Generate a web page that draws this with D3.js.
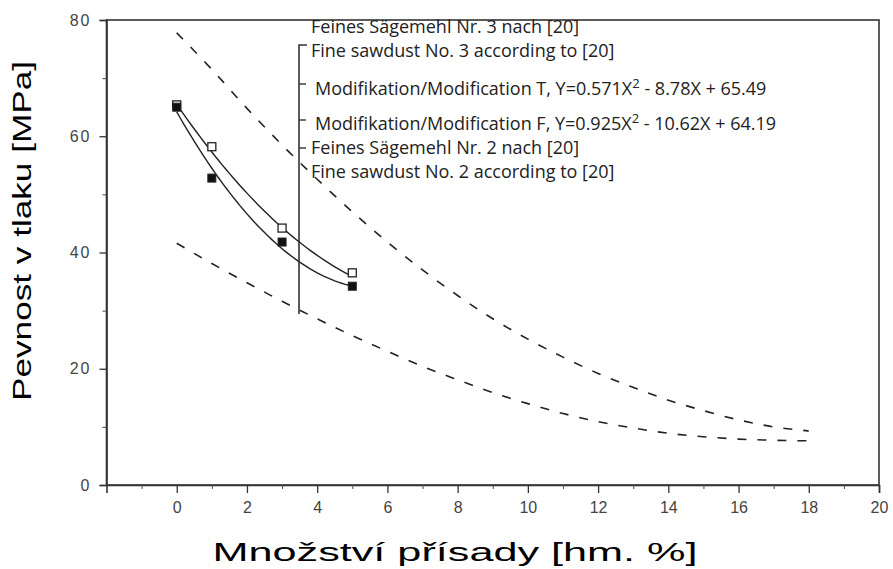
<!DOCTYPE html>
<html>
<head>
<meta charset="utf-8">
<script src="https://cdn.jsdelivr.net/npm/d3@7/dist/d3.min.js"></script>
<style>
  html, body { margin: 0; padding: 0; background: #fff; }
  svg { display: block; }
  .tick-label { font-family: "Liberation Sans", Arial, sans-serif; fill: #444; }
  .axis-title { font-family: "Liberation Sans", Arial, sans-serif; fill: #000; }
  .legend-text { font-family: "Open Sans", "Noto Sans", sans-serif; fill: #222; }
</style>
</head>
<body>
<svg id="chart" width="893" height="569"></svg>
<script>
// Additive dosage [wt. %] and compressive strength [MPa]
const dosage = [0, 1, 3, 5];
const strengthT = [65.4, 58.2, 44.2, 36.5];   // modification T (open squares)
const strengthF = [65.0, 52.8, 41.8, 34.2];   // modification F (filled squares)

// Quadratic fits: a*X^2 + b*X + c
const fitT = [0.571, -8.78, 65.49];
const fitF = [0.925, -10.62, 64.19];

// Reference curves for fine sawdust No. 3 and No. 2
const refDosage = [0, 1, 2, 3, 4, 5, 6, 7, 8, 9, 10, 11, 12, 13, 14, 15, 16, 17, 18];
const refNo3 = [77.8, 71.5, 64.8, 58.5, 52.6, 47.0, 41.8, 37.0, 32.6, 28.6, 25.1, 22.0, 19.2, 16.8, 14.6, 12.8, 11.2, 10.0, 9.3];
const refNo2 = [41.6, 38.1, 34.8, 31.6, 28.6, 25.7, 23.0, 20.4, 18.1, 15.9, 14.0, 12.3, 10.9, 9.8, 8.9, 8.3, 7.9, 7.7, 7.6];

// Axis ticks
const xMajorTicks = [0, 2, 4, 6, 8, 10, 12, 14, 16, 18, 20];
const xMinorTicks = [-1, 1, 3, 5, 7, 9, 11, 13, 15, 17, 19];
const yMajorTicks = [0, 20, 40, 60, 80];
const yMinorTicks = [10, 30, 50, 70];

const xTitle = "Množství přísady [hm. %]";
const yTitle = "Pevnost v tlaku [MPa]";

const legendEntries = [
  "Feines Sägemehl Nr. 3 nach [20]",
  "Fine sawdust No. 3 according to [20]",
  "Modifikation/Modification T",
  "Modifikation/Modification F",
  "Feines Sägemehl Nr. 2 nach [20]",
  "Fine sawdust No. 2 according to [20]"
];

const svg = d3.select("#chart");
const x = d3.scaleLinear().domain([-2, 20]).range([106.5, 879]);
const y = d3.scaleLinear().domain([0, 80]).range([485, 20]);

// Frame
svg.append("rect")
  .attr("x", x(-2)).attr("y", y(80))
  .attr("width", x(20) - x(-2)).attr("height", y(0) - y(80))
  .attr("fill", "none").attr("stroke", "#333").attr("stroke-width", 1.6);

// Bottom axis
const xAxis = svg.append("g").attr("transform", `translate(0,${y(0)})`)
  .call(d3.axisBottom(x).tickValues(xMajorTicks).tickSize(8).tickPadding(9).tickFormat(d3.format("d")));
xAxis.select(".domain").attr("stroke", "#333").attr("stroke-width", 1.6);
xAxis.selectAll(".tick line").attr("stroke", "#333").attr("stroke-width", 1.3);
xAxis.selectAll(".tick text").attr("class", "tick-label").attr("font-size", 16).attr("fill", "#444");
svg.append("g").attr("transform", `translate(0,${y(0)})`)
  .call(d3.axisBottom(x).tickValues(xMinorTicks).tickSize(4).tickFormat(""))
  .call(g => g.select(".domain").remove())
  .selectAll(".tick line").attr("stroke", "#555").attr("stroke-width", 1.1);

// Left axis
const yAxis = svg.append("g").attr("transform", `translate(${x(-2)},0)`)
  .call(d3.axisLeft(y).tickValues(yMajorTicks).tickSize(7).tickPadding(8).tickFormat(d3.format("d")));
yAxis.select(".domain").attr("stroke", "#333").attr("stroke-width", 1.6);
yAxis.selectAll(".tick line").attr("stroke", "#333").attr("stroke-width", 1.3);
yAxis.selectAll(".tick text").attr("class", "tick-label").attr("font-size", 16)
  .attr("letter-spacing", 2).attr("fill", "#444");
svg.append("g").attr("transform", `translate(${x(-2)},0)`)
  .call(d3.axisLeft(y).tickValues(yMinorTicks).tickSize(4).tickFormat(""))
  .call(g => g.select(".domain").remove())
  .selectAll(".tick line").attr("stroke", "#555").attr("stroke-width", 1.1);

// Axis titles
svg.append("text").attr("class", "axis-title")
  .attr("x", 455).attr("y", 561).attr("text-anchor", "middle")
  .attr("font-size", 25).attr("textLength", 485).attr("lengthAdjust", "spacingAndGlyphs")
  .text(xTitle);
svg.append("text").attr("class", "axis-title")
  .attr("transform", "translate(31,231) rotate(-90)")
  .attr("text-anchor", "middle").attr("font-size", 25)
  .attr("textLength", 340).attr("lengthAdjust", "spacingAndGlyphs")
  .text(yTitle);

// Dashed reference curves
const refLine = d3.line().x((d, i) => x(refDosage[i])).y(d => y(d)).curve(d3.curveMonotoneX);
[refNo3, refNo2].forEach(series => {
  svg.append("path").attr("d", refLine(series))
    .attr("fill", "none").attr("stroke", "#222").attr("stroke-width", 1.6)
    .attr("stroke-dasharray", "9,11");
});

// Fitted curves over the measured range
const fitSamples = d3.range(0, 5.0001, 0.1);
const fitLine = coef => d3.line()
  .x(d => x(d))
  .y(d => y(coef[0] * d * d + coef[1] * d + coef[2]));
[fitT, fitF].forEach(coef => {
  svg.append("path").attr("d", fitLine(coef)(fitSamples))
    .attr("fill", "none").attr("stroke", "#222").attr("stroke-width", 1.4);
});

// Measured points
const sq = 8;
svg.append("g").selectAll("rect").data(dosage).join("rect")
  .attr("x", (d) => x(d) - sq / 2).attr("y", (d, i) => y(strengthT[i]) - sq / 2)
  .attr("width", sq).attr("height", sq)
  .attr("fill", "#fff").attr("stroke", "#222").attr("stroke-width", 1.3);
svg.append("g").selectAll("rect").data(dosage).join("rect")
  .attr("x", (d) => x(d) - sq / 2).attr("y", (d, i) => y(strengthF[i]) - sq / 2)
  .attr("width", sq).attr("height", sq)
  .attr("fill", "#111").attr("stroke", "#222").attr("stroke-width", 1);

// Legend bracket
const bx = 299;
svg.append("path")
  .attr("d", `M${bx + 8},45 H${bx} V314`)
  .attr("fill", "none").attr("stroke", "#333").attr("stroke-width", 1.6);
[84, 120, 148].forEach(ty => {
  svg.append("line").attr("x1", bx).attr("x2", bx + 7).attr("y1", ty).attr("y2", ty)
    .attr("stroke", "#333").attr("stroke-width", 1.4);
});

// Legend text
const fmtEq = (coef) => {
  const sgn = v => (v < 0 ? " - " : " + ");
  return [`, Y=${coef[0]}X`, "2", `${sgn(coef[1])}${Math.abs(coef[1])}X${sgn(coef[2])}${Math.abs(coef[2])}`];
};
const legendRows = [
  { y: 33, x: 311, parts: [legendEntries[0]] },
  { y: 57, x: 311, parts: [legendEntries[1]] },
  { y: 95, x: 315, parts: [legendEntries[2]], eq: fmtEq(fitT) },
  { y: 130, x: 315, parts: [legendEntries[3]], eq: fmtEq(fitF) },
  { y: 154, x: 311, parts: [legendEntries[4]] },
  { y: 178, x: 311, parts: [legendEntries[5]] }
];
legendRows.forEach(row => {
  const t = svg.append("text").attr("class", "legend-text")
    .attr("x", row.x).attr("y", row.y).attr("font-size", 18);
  t.append("tspan").text(row.parts[0]);
  if (row.eq) {
    t.append("tspan").text(row.eq[0]);
    t.append("tspan").attr("dy", -7).attr("font-size", 13).text(row.eq[1]);
    t.append("tspan").attr("dy", 7).text(row.eq[2]);
  }
});
</script>
</body>
</html>
